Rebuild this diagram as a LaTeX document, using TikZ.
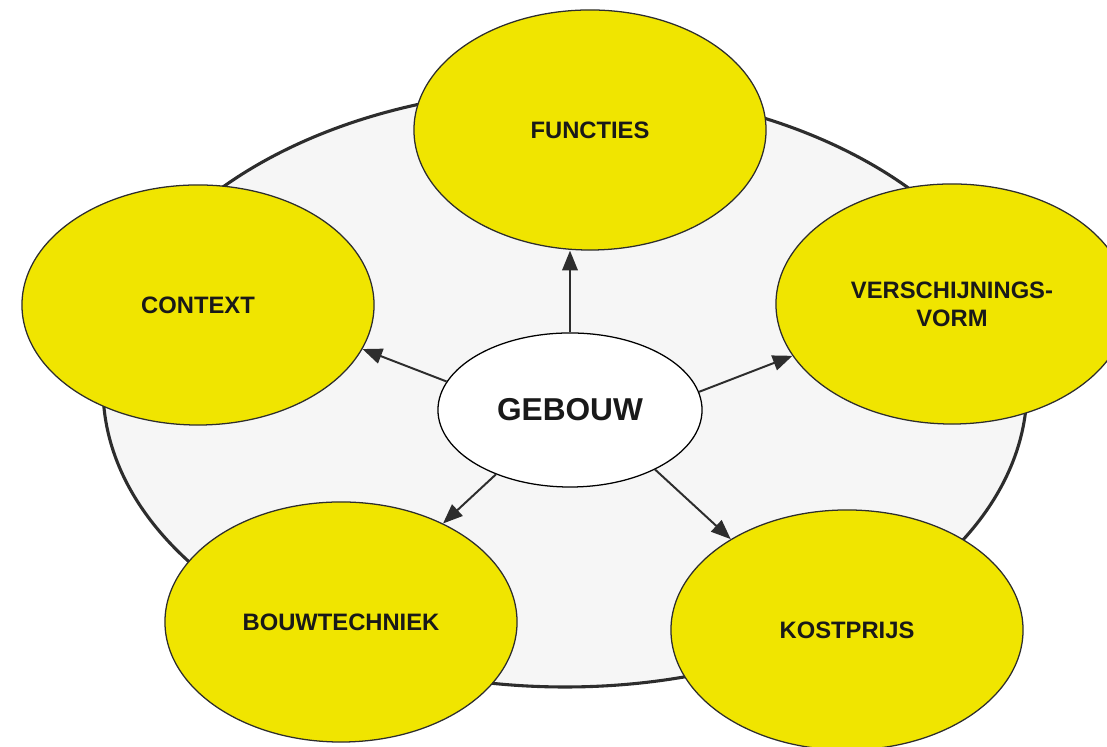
\documentclass[tikz,border=0pt]{standalone}
\usepackage{fontspec}
\setmainfont{Liberation Sans}
\usepackage{xcolor}
\usetikzlibrary{shapes.geometric,arrows.meta}
\definecolor{aspectyellow}{RGB}{240,229,0}
\definecolor{ringgray}{RGB}{246,246,246}
\definecolor{inkgray}{RGB}{45,45,45}
\tikzset{
  aspect/.style={ellipse, draw=inkgray, line width=0.9pt, fill=aspectyellow,
    inner sep=0pt, minimum width=8.8cm, minimum height=6cm,
    font=\fontsize{16.9}{20}\selectfont\bfseries, text=black!90, align=center},
  core/.style={ellipse, draw=black, line width=0.9pt, fill=white,
    inner sep=0pt, minimum width=6.6cm, minimum height=3.85cm,
    font=\fontsize{22.5}{26}\selectfont\bfseries, text=black!90},
  link/.style={draw=inkgray, line width=1.4pt, -{Triangle[length=14pt,width=11pt]}},
}
\begin{document}
\begin{tikzpicture}[x=0.025cm, y=0.025cm]
  \useasboundingbox (0,0) rectangle (1107,747);
  % ring
  \draw[draw=inkgray, line width=2.2pt, fill=ringgray] (565,359) ellipse [x radius=462, y radius=299];
  % aspects
  \node[aspect] (functies) at (590,617) {FUNCTIES};
  \node[aspect] (context) at (198,442) {CONTEXT};
  \node[aspect] (verschijning) at (952,443) {VERSCHIJNINGS-\\VORM};
  \node[aspect] (bouwtechniek) at (341,125) {BOUWTECHNIEK};
  \node[aspect] (kostprijs) at (847,117) {KOSTPRIJS};
  % centre
  \node[core] (gebouw) at (570,337) {GEBOUW};
  \draw[link] (gebouw.north) -- (gebouw.north |- functies.south);
  \draw[link] (gebouw.167) -- (context.-15);
  \draw[link] (gebouw.8) -- (verschijning.198);
  \draw[link] (gebouw.221) -- (bouwtechniek.44);
  \draw[link] (gebouw.-35) -- (kostprijs.142);
\end{tikzpicture}
\end{document}
